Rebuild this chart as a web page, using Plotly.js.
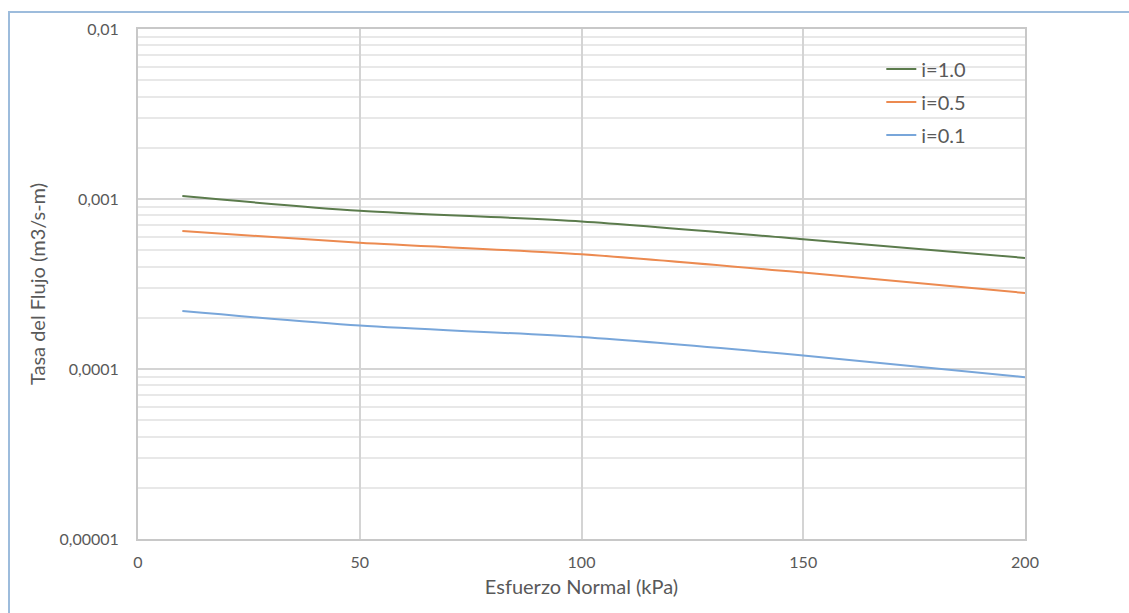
<!DOCTYPE html>
<html>
<head>
<meta charset="utf-8">
<script src="https://cdn.plot.ly/plotly-3.0.1.min.js"></script>
<style>
html,body{margin:0;padding:0;background:#fff;}
#wrap{position:relative;width:1129px;height:613px;}
#chart{width:1129px;height:613px;}
#frame{position:absolute;left:8px;top:11px;width:1200px;height:700px;border-left:2px solid #9dbcdc;border-top:2px solid #9dbcdc;pointer-events:none;}
</style>
</head>
<body>
<div id="wrap"><div id="chart"></div><div id="frame"></div></div>
<script>
const esfuerzo = [10, 50, 100, 150, 200];
const seriesNames = ['i=1.0', 'i=0.5', 'i=0.1'];
const flujo_i10 = [0.00104, 0.000852, 0.000738, 0.000580, 0.000450];
const flujo_i05 = [0.000648, 0.000552, 0.000473, 0.000369, 0.000280];
const flujo_i01 = [0.000219, 0.000180, 0.000154, 0.000120, 0.0000895];
const yTickVals = [0.00001, 0.0001, 0.001, 0.01];
const yTickText = ['0,00001', '0,0001', '0,001', '0,01'];
const xTickVals = [0, 50, 100, 150, 200];

const colors = ['#5b7b4c', '#ec8a50', '#78a6da'];
const ys = [flujo_i10, flujo_i05, flujo_i01];
const traces = ys.map((y, i) => ({
  x: esfuerzo, y: y, name: seriesNames[i], type: 'scatter', mode: 'lines',
  line: {color: colors[i], width: 2, shape: 'spline', smoothing: 0.8},
  legendgroup: 'g' + i
}));

const font = {family: 'Lato, "Open Sans", sans-serif', color: '#595959'};
const layout = {
  width: 1129, height: 613,
  margin: {l: 138, r: 104, t: 29, b: 74},
  paper_bgcolor: '#fff', plot_bgcolor: '#fff',
  font: font,
  showlegend: true,
  legend: {x: 0.838, y: 0.96, xanchor: 'left', yanchor: 'top', bgcolor: 'rgba(0,0,0,0)',
           font: {family: font.family, size: 20, color: '#595959'}, traceorder: 'grouped', tracegroupgap: 4},
  xaxis: {
    range: [0, 200], tickvals: xTickVals, ticktext: xTickVals.map(String),
    showgrid: true, gridcolor: '#d4d4d4', gridwidth: 2,
    showline: true, linecolor: '#c8c8c8', linewidth: 2, mirror: true,
    zeroline: false, ticks: '', ticklen: 0, ticklabelstandoff: 8,
    tickfont: {family: font.family, size: 16, color: '#595959'},
    title: {text: 'Esfuerzo Normal (kPa)', font: {family: font.family, size: 20, color: '#595959'}, standoff: 10}
  },
  yaxis: {
    type: 'log', range: [-5, -2], tickvals: yTickVals, ticktext: yTickText,
    showgrid: true, gridcolor: '#d4d4d4', gridwidth: 2,
    minor: {dtick: 'D1', showgrid: true, gridcolor: '#e8e8e8', gridwidth: 2, ticks: ''},
    showline: true, linecolor: '#c8c8c8', linewidth: 2, mirror: true,
    zeroline: false, ticks: '', ticklen: 0, ticklabelstandoff: 14,
    tickfont: {family: font.family, size: 16, color: '#595959'},
    title: {text: 'Tasa del Flujo (m3/s-m)', font: {family: font.family, size: 20, color: '#595959'}, standoff: 8}
  }
};
Plotly.newPlot('chart', traces, layout, {displayModeBar: false, staticPlot: true});
</script>
</body>
</html>
